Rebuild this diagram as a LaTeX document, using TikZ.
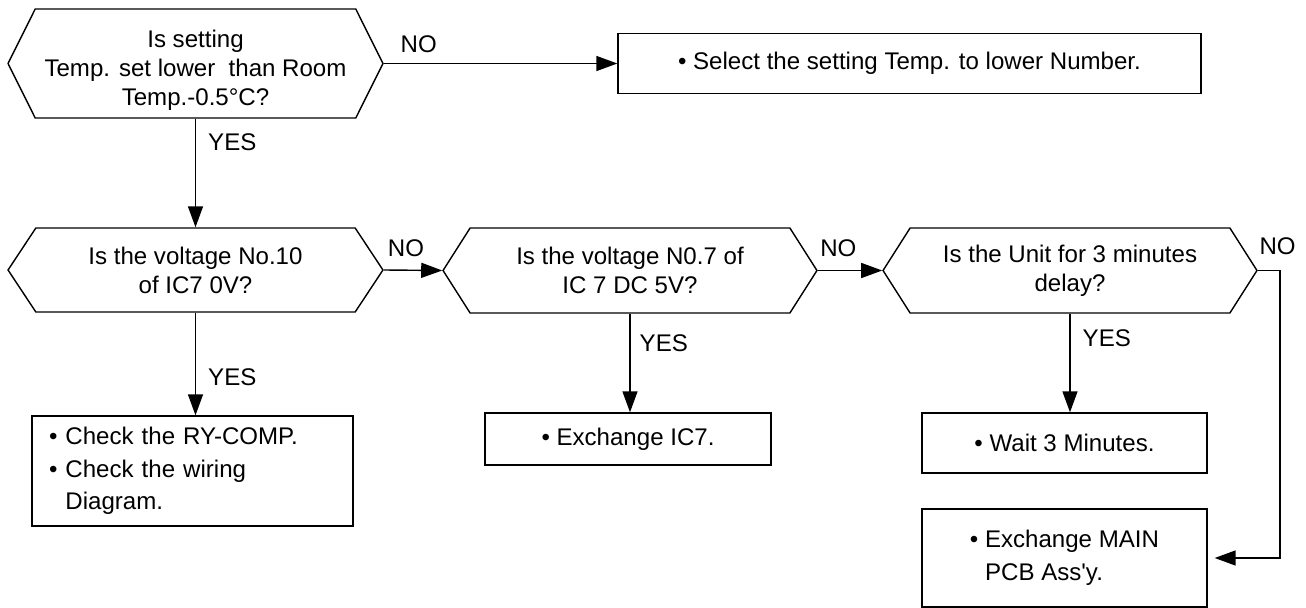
\documentclass[tikz,border=0pt]{standalone}
\usepackage{fontspec}
\setmainfont{Liberation Sans}
\usepackage{tikz}
\usetikzlibrary{arrows.meta,calc,positioning,shapes.symbols}

\tikzset{
  decision/.style={draw,line width=0.8pt,shape=signal,signal to=east and west,
    inner sep=0pt,align=center,font=\fontsize{13.7pt}{16.4pt}\selectfont},
  action/.style={draw,line width=0.8pt,rectangle,inner sep=0pt,
    font=\fontsize{13.7pt}{18.5pt}\selectfont},
  flow/.style={line width=0.8pt,-{Triangle[length=0.42cm,width=0.3cm]}},
  answer/.style={inner sep=0pt,font=\fontsize{13.7pt}{16pt}\selectfont}
}

\begin{document}
\begin{tikzpicture}[x=0.02cm,y=-0.02cm]
    \useasboundingbox (0,0) rectangle (1306,608);
    % questions
    \node[decision,minimum width=7.5cm,minimum height=2.18cm,signal pointer angle=127] (roomtemp) at (195.5,63.5)
      {\raisebox{-0.14cm}[\height][\depth]{\begin{tabular}{@{}c@{}}Is setting\\Temp. set lower~ than Room\\Temp.-0.5°C?\end{tabular}}};
    \node[decision,minimum width=7.5cm,minimum height=1.68cm,signal pointer angle=113] (pinten) at (195.5,270)
      {Is the voltage No.10\\of IC7 0V?};
    \node[decision,minimum width=7.48cm,minimum height=1.7cm,signal pointer angle=115] (pinseven) at (630,270.5)
      {Is the voltage N0.7 of\\IC 7 DC 5V?};
    \node[decision,minimum width=7.48cm,minimum height=1.7cm,signal pointer angle=115] (delay) at (1070,270.5)
      {Is the Unit for 3 minutes\\delay?};
    % actions
    \node[action,minimum width=11.66cm,minimum height=1.2cm] (lowertemp) at (909.5,63.5)
      {• Select the setting Temp. to lower Number.};
    \node[action,minimum width=6.42cm,minimum height=2.2cm,align=left,text width=5.74cm,inner xsep=0.34cm] (checkcomp) at (192.5,471)
      {•\ Check the RY-COMP.\\ •\ Check the wiring\\ \phantom{•\ }Diagram.};
    \node[action,minimum width=5.72cm,minimum height=1.04cm] (changeic) at (628,439)
      {• Exchange IC7.};
    \node[action,minimum width=5.7cm,minimum height=1.2cm] (waitmin) at (1064.5,443)
      {• Wait 3 Minutes.};
    \node[action,minimum width=5.7cm,minimum height=1.96cm,align=left] (changepcb) at (1064.5,558)
      {• Exchange MAIN\\ \phantom{•\ }PCB Ass\textquotesingle y.};
    % connectors
    \draw[flow] (roomtemp.east) -- node[answer,pos=0.15,above=0.2cm] {NO} (lowertemp.west);
    \draw[flow] (roomtemp.south) -- node[answer,pos=0.22,right=0.24cm] {YES} (pinten.north);
    \draw[flow] (pinten.east) -- node[answer,pos=0.38,above=0.26cm] {NO} (pinseven.west);
    \draw[flow] (pinten.south) -- node[answer,pos=0.63,right=0.24cm] {YES} (pinten.south |- checkcomp.north);
    \draw[flow] (pinseven.east) -- node[answer,pos=0.32,above=0.26cm] {NO} (delay.west);
    \draw[flow] (pinseven.south) -- node[answer,pos=0.3,right=0.18cm] {YES} (pinseven.south |- changeic.north);
    \draw[flow] (delay.south) -- node[answer,pos=0.25,right=0.24cm] {YES} (delay.south |- waitmin.north);
    \draw[flow] (delay.east) -- ++(22,0) node[answer,pos=0.9,above=0.3cm] {NO} |- ([xshift=0.14cm]changepcb.east);
\end{tikzpicture}
\end{document}
